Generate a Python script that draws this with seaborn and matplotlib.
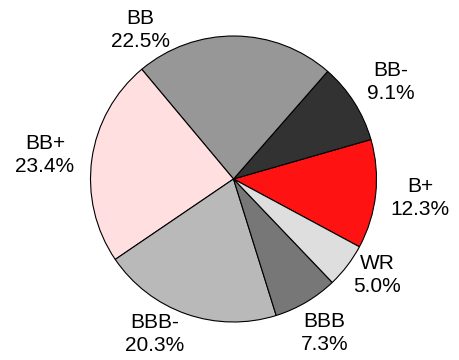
import matplotlib
matplotlib.use("Agg")
import matplotlib.pyplot as plt
import seaborn as sns

sns.set_theme(style="white")
plt.rcParams['font.family'] = ['Liberation Sans', 'DejaVu Sans']

# data (counter-clockwise order)
ratings = ["B+", "BB-", "BB", "BB+", "BBB-", "BBB", "WR"]
shares = [12.3, 9.1, 22.5, 23.4, 20.3, 7.3, 5.0]
colors = ["#ff1212", "#323232", "#979797", "#ffdfe0", "#b9b9b9", "#777777", "#dedede"]

# label positions (pie radius units)
label_pos = [(1.306, -0.133), (1.101, 0.679), (-0.652, 1.042), (-1.318, 0.168),
             (-0.549, -1.084), (0.636, -1.077), (1.007, -0.671)]

W, H = 459, 360
cx, cy, R = 233.5, 179.0, 143.0
fig = plt.figure(figsize=(W / 100, H / 100), dpi=100)
ax = fig.add_axes([0, 0, 1, 1])

wedges, texts = ax.pie(shares, colors=colors, startangle=-28.3, counterclock=True,
                       labels=[f"{r}\n{s:.1f}%" for r, s in zip(ratings, shares)],
                       wedgeprops=dict(edgecolor="black", linewidth=0.8),
                       textprops=dict(fontsize=15, color="black"))
for t, (x, y) in zip(texts, label_pos):
    t.set_position((x, y))
    t.set_ha("center")
    t.set_va("center")
    t.set_multialignment("center")
    t.set_linespacing(1.3)

ax.set_xlim(-cx / R, (W - cx) / R)
ax.set_ylim(-(H - cy) / R, cy / R)
ax.set_aspect("auto")
ax.axis("off")
fig.savefig("out.png", dpi=100)
